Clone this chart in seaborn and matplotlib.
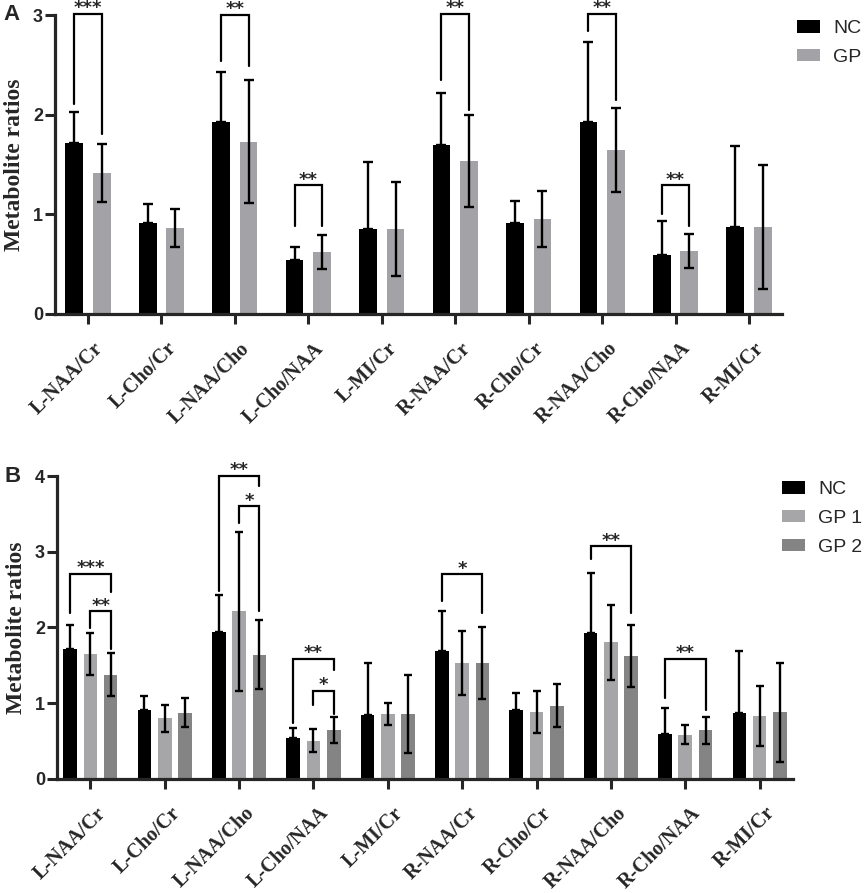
import numpy as np
import pandas as pd
import matplotlib
matplotlib.use("Agg")
import matplotlib.pyplot as plt
import matplotlib.transforms as mtransforms
import seaborn as sns

# ---------------- data ----------------
categories = ["L-NAA/Cr", "L-Cho/Cr", "L-NAA/Cho", "L-Cho/NAA", "L-MI/Cr",
              "R-NAA/Cr", "R-Cho/Cr", "R-NAA/Cho", "R-Cho/NAA", "R-MI/Cr"]

# Panel A
a_groups = ["NC", "GP"]
a_nc_mean = [1.72, 0.91, 1.93, 0.54, 0.85, 1.70, 0.91, 1.93, 0.595, 0.87]
a_nc_sd   = [0.31, 0.19, 0.50, 0.13, 0.68, 0.52, 0.22, 0.80, 0.335, 0.82]
a_gp_mean = [1.415, 0.86, 1.73, 0.62, 0.85, 1.535, 0.95, 1.645, 0.63, 0.87]
a_gp_sd   = [0.295, 0.19, 0.62, 0.17, 0.47, 0.465, 0.28, 0.425, 0.17, 0.62]

# Panel B
b_groups = ["NC", "GP 1", "GP 2"]
b_nc_mean  = [1.72, 0.907, 1.934, 0.537, 0.846, 1.69, 0.907, 1.93, 0.595, 0.872]
b_nc_sd    = [0.315, 0.19, 0.50, 0.137, 0.687, 0.53, 0.23, 0.79, 0.335, 0.82]
b_gp1_mean = [1.643, 0.80, 2.21, 0.503, 0.855, 1.53, 0.88, 1.80, 0.58, 0.83]
b_gp1_sd   = [0.277, 0.177, 1.05, 0.153, 0.14, 0.42, 0.28, 0.50, 0.125, 0.40]
b_gp2_mean = [1.375, 0.873, 1.64, 0.64, 0.855, 1.533, 0.967, 1.617, 0.639, 0.876]
b_gp2_sd   = [0.285, 0.193, 0.46, 0.17, 0.51, 0.477, 0.28, 0.41, 0.18, 0.657]

# significance brackets: (category, group i, group j, top, left leg end, right leg end, label)
a_brackets = [
    (0, 0, 1, 3.01, 2.11, 1.81, "***"),
    (2, 0, 1, 3.00, 2.54, 2.49, "**"),
    (3, 0, 1, 1.29, 0.886, 0.886, "**"),
    (5, 0, 1, 3.01, 2.35, 2.05, "**"),
    (7, 0, 1, 3.01, 2.84, 2.15, "**"),
    (8, 0, 1, 1.29, 1.00, 0.886, "**"),
]
b_brackets = [
    (0, 0, 2, 2.705, 2.185, 2.47, "***"),
    (0, 1, 2, 2.21, 1.99, 1.71, "**"),
    (2, 0, 2, 4.00, 2.476, 3.87, "**"),
    (2, 1, 2, 3.60, 3.38, 2.216, "*"),
    (3, 0, 2, 1.58, 0.73, 1.436, "**"),
    (3, 1, 2, 1.163, 0.97, 0.855, "*"),
    (5, 0, 2, 2.70, 2.35, 2.19, "*"),
    (7, 0, 2, 3.07, 2.90, 2.185, "**"),
    (8, 0, 2, 1.58, 1.07, 0.91, "**"),
]

# ---------------- style ----------------
sns.set_style("ticks")
plt.rcParams["font.family"] = ["Liberation Sans", "DejaVu Sans"]
SERIF = ["Liberation Serif", "DejaVu Serif"]

fig = plt.figure(figsize=(8.65, 8.93), dpi=100)
axA = fig.add_axes([55/865, 1-314/893, 727/865, 299/893])
axB = fig.add_axes([57/865, 1-778.7/893, 736/865, 302.7/893])


def build_df(groups, means):
    rows = []
    for g, m in zip(groups, means):
        for c, v in zip(categories, m):
            rows.append({"metric": c, "group": g, "value": v})
    return pd.DataFrame(rows)


def draw_panel(ax, groups, means, sds, palette, width, gap, ymax, brackets,
               letter, capsize, leg_anchor):
    df = build_df(groups, means)
    sns.barplot(data=df, x="metric", y="value", hue="group", order=categories,
                hue_order=groups, palette=palette, width=width, gap=gap,
                errorbar=None, saturation=1, ax=ax, linewidth=0, legend=True)
    bar_containers = list(ax.containers)
    centers = []
    for cont in bar_containers:
        centers.append(np.array([p.get_x() + p.get_width() / 2 for p in cont.patches]))
    for k, xs in enumerate(centers):
        sd = np.array(sds[k])
        if k == 0:
            yerr = [np.zeros_like(sd), sd]
        else:
            yerr = [sd, sd]
        ax.errorbar(xs, means[k], yerr=yerr, fmt="none", ecolor="black",
                    elinewidth=1.7, capsize=capsize, capthick=1.7, zorder=3)
    for (c, i, j, top, yl, yr, lab) in brackets:
        x1, x2 = centers[i][c], centers[j][c]
        ax.plot([x1, x1, x2, x2], [yl, top, top, yr], color="black", lw=1.6,
                clip_on=False, zorder=4, solid_joinstyle="miter")
        ax.annotate(lab, xy=((x1 + x2) / 2, top), xytext=(0, 0.5),
                    textcoords="offset points", ha="center", va="baseline",
                    fontsize=13, fontweight="bold", annotation_clip=False,
                    family=["DejaVu Sans"])
    ax.set_xlim(-0.45, 9.45)
    ax.set_ylim(0, ymax)
    ax.set_yticks(range(0, ymax + 1))
    ax.set_xlabel("")
    ax.set_ylabel("Metabolite ratios", family=SERIF, fontweight="bold",
                  fontsize=17)
    ax.yaxis.set_label_coords(-0.041, 0.5)
    for s in ["top", "right"]:
        ax.spines[s].set_visible(False)
    for s in ["left", "bottom"]:
        ax.spines[s].set_linewidth(2.3)
    ax.tick_params(axis="both", width=2.2, length=7.2, direction="out")
    ax.tick_params(axis="y", labelsize=13, pad=1.5)
    for t in ax.get_yticklabels():
        t.set_fontweight("bold")
    ax.set_xticks(range(len(categories)))
    ax.set_xticklabels(categories, rotation=45, ha="right",
                       rotation_mode="anchor", family=SERIF,
                       fontweight="bold", fontsize=14.5)
    ax.tick_params(axis="x", pad=4)
    shift = mtransforms.ScaledTranslation(5/100, -9/100, fig.dpi_scale_trans)
    for t in ax.get_xticklabels():
        t.set_transform(t.get_transform() + shift)
    handles, labels = ax.get_legend_handles_labels()
    ax.legend(handles, labels, loc="upper left", bbox_to_anchor=leg_anchor,
              bbox_transform=fig.transFigure, frameon=False, fontsize=14,
              handlelength=1.2, handleheight=0.62, handletextpad=0.65,
              labelspacing=0.6, borderpad=0, borderaxespad=0)
    fig.text(ax.get_position().x0 - 52/865, ax.get_position().y1, letter,
             fontsize=16, fontweight="bold", ha="left", va="center")


draw_panel(axA, a_groups, [a_nc_mean, a_gp_mean], [a_nc_sd, a_gp_sd],
           {"NC": "#000000", "GP": "#a3a3a7"}, 0.75, 0.36, 3, a_brackets,
           "A", 3.6, (797/865, 1-20/893))
draw_panel(axB, b_groups, [b_nc_mean, b_gp1_mean, b_gp2_mean],
           [b_nc_sd, b_gp1_sd, b_gp2_sd],
           {"NC": "#000000", "GP 1": "#a6a6a9", "GP 2": "#848484"},
           0.82, 0.34, 4, b_brackets, "B", 3.0, (782/865, 1-481/893))

fig.savefig("out.png", dpi=100)
